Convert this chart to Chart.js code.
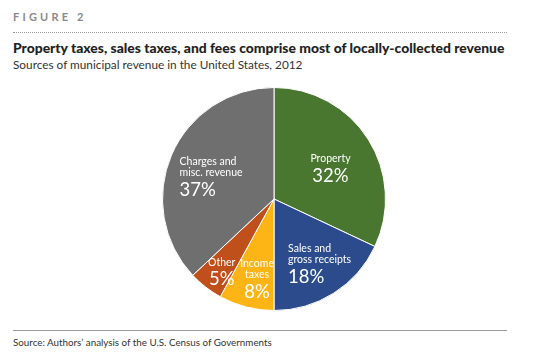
<!DOCTYPE html>
<html><head><meta charset="utf-8">
<script src="https://cdn.jsdelivr.net/npm/chart.js@4"></script>
<style>
html,body{margin:0;padding:0;background:#fff;width:540px;height:361px;overflow:hidden;font-family:Lato,"Open Sans",sans-serif;}
.abs{position:absolute;white-space:nowrap;}
#fig{left:13px;top:10px;font-size:11px;font-weight:bold;letter-spacing:3.2px;color:#8a8a8a;}
#dots{left:13px;top:32px;width:494px;border-top:1px dotted #9a9a9a;}
#title{left:13px;top:39px;font-size:13.9px;font-weight:900;color:#222;}
#sub{left:13px;top:57px;font-size:11.8px;color:#333;}
#rule{left:13px;top:330px;width:494px;border-top:1px solid #9a9a9a;}
#src{left:13px;top:336px;font-size:9.8px;color:#333;}
#wrap{left:162px;top:87px;width:224px;height:224px;}
</style></head><body>
<div class="abs" id="fig">FIGURE 2</div>
<div class="abs" id="dots"></div>
<div class="abs" id="title">Property taxes, sales taxes, and fees comprise most of locally-collected revenue</div>
<div class="abs" id="sub">Sources of municipal revenue in the United States, 2012</div>
<div class="abs" id="wrap"><canvas id="c"></canvas></div>
<div class="abs" id="rule"></div>
<div class="abs" id="src">Source: Authors’ analysis of the U.S. Census of Governments</div>
<script>
const categories = ["Property", "Sales and gross receipts", "Income taxes", "Other", "Charges and misc. revenue"];
const labelLines = [["Property"], ["Sales and", "gross receipts"], ["Income", "taxes"], ["Other"], ["Charges and", "misc. revenue"]];
const values = [32, 18, 8, 5, 37];
const colors = ["#4a7730", "#2b4b8c", "#fdb515", "#c0501b", "#6f6f6f"];
// label placement styles: radial fraction, pixel nudge, alignment
const labelStyle = [
  {f:0.6, dx:0, dy:6, align:"center"},
  {f:0.62, dx:-23, dy:7, align:"left"},
  {f:0.72, dx:3, dy:3, align:"center"},
  {f:0.78, dx:1, dy:5, align:"center"},
  {f:0.62, dx:-31, dy:6, align:"left"}
];

const labelPlugin = {
  id: "sliceLabels",
  afterDatasetsDraw(chart) {
    const ctx = chart.ctx;
    const meta = chart.getDatasetMeta(0);
    meta.data.forEach((arc, i) => {
      const p = arc.getProps(["x","y","startAngle","endAngle","outerRadius"], true);
      const mid = (p.startAngle + p.endAngle) / 2;
      const st = labelStyle[i];
      const cx = p.x + Math.cos(mid) * p.outerRadius * st.f + st.dx;
      const cy = p.y + Math.sin(mid) * p.outerRadius * st.f + st.dy;
      const lines = labelLines[i];
      const nameH = 11.5, pctH = 21;
      const total = lines.length * nameH + pctH;
      let y = cy - total / 2;
      ctx.save();
      ctx.fillStyle = "#fff";
      ctx.textAlign = st.align;
      ctx.textBaseline = "middle";
      ctx.font = "10.5px Lato, 'Open Sans', sans-serif";
      lines.forEach(l => { ctx.fillText(l, cx, y + nameH / 2); y += nameH; });
      ctx.font = "18.5px Lato, 'Open Sans', sans-serif";
      ctx.fillText(values[i] + "%", cx, y + pctH / 2 + 1);
      ctx.restore();
    });
  }
};

new Chart(document.getElementById("c"), {
  type: "pie",
  data: { labels: categories, datasets: [{ data: values, backgroundColor: colors, borderColor: "#fff", borderWidth: 1 }] },
  options: {
    responsive: true, maintainAspectRatio: false, animation: false,
    layout: { padding: 0 },
    plugins: { legend: { display: false }, tooltip: { enabled: false } }
  },
  plugins: [labelPlugin]
});
</script>
</body></html>
